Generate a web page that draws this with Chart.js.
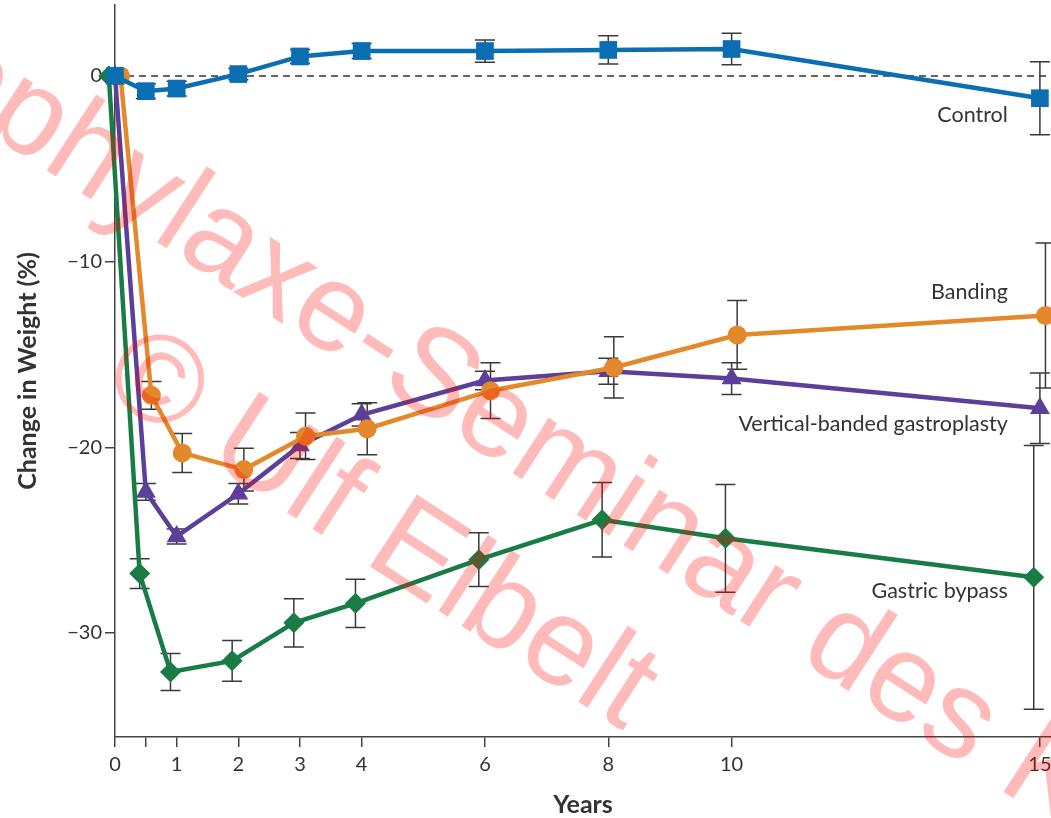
<!DOCTYPE html>
<html>
<head>
<meta charset="utf-8">
<script src="https://cdn.jsdelivr.net/npm/chart.js@4.4.0/dist/chart.umd.min.js"></script>
<style>
  html, body { margin: 0; padding: 0; background: #ffffff; }
  #wrap { width: 1051px; height: 818px; position: relative; }
</style>
</head>
<body>
<div id="wrap"><canvas id="c" width="1051" height="818"></canvas></div>
<script>
// ---- data ----
const years = [0, 0.5, 1, 2, 3, 4, 6, 8, 10, 15];
const xTickValues = [0, 0.5, 1, 2, 3, 4, 6, 8, 10, 15];
const yTickValues = [0, -10, -20, -30];
const seriesNames = ['Control', 'Banding', 'Vertical-banded gastroplasty', 'Gastric bypass'];

const controlValues = [0, -0.82, -0.68, 0.1, 1.05, 1.34, 1.34, 1.4, 1.45, -1.2];
const controlErrors = [0, 0.4, 0.4, 0.3, 0.38, 0.4, 0.6, 0.76, 0.85, 1.97];

const bandingValues = [0, -17.2, -20.3, -21.2, -19.4, -19.0, -16.95, -15.7, -13.95, -12.9];
const bandingErrors = [0, 0.75, 1.05, 1.15, 1.25, 1.4, 1.5, 1.65, 1.85, 3.9];

const vbgValues = [0, -22.4, -24.8, -22.5, -19.9, -18.25, -16.4, -15.9, -16.3, -17.9];
const vbgErrors = [0, 0.45, 0.4, 0.55, 0.7, 0.6, 0.5, 0.7, 0.85, 1.9];

const bypassValues = [0, -26.8, -32.1, -31.5, -29.45, -28.4, -26.05, -23.9, -24.9, -27.0];
const bypassErrors = [0, 0.8, 1.0, 1.1, 1.3, 1.3, 1.45, 2.0, 2.9, 7.1];

// small horizontal jitter of each series in the original figure (years)
const controlShift = 0, bandingShift = 0.09, vbgShift = 0, bypassShift = -0.1;

function pts(values, shift) {
  return values.map((v, i) => ({ x: years[i] + shift, y: v }));
}

const INK = '#333333';
const FONT = 'Lato, "DejaVu Sans", sans-serif';

const errorBarPlugin = {
  id: 'errorBars',
  beforeDatasetsDraw(chart) {
    const ctx = chart.ctx;
    const ys = chart.scales.y;
    ctx.save();
    ctx.strokeStyle = '#3a3a3a';
    ctx.lineWidth = 1.5;
    chart.data.datasets.forEach((ds, di) => {
      if (!ds.errors) return;
      const meta = chart.getDatasetMeta(di);
      meta.data.forEach((el, i) => {
        const e = ds.errors[i];
        if (!e) return;
        const v = ds.data[i].y;
        const x = el.x;
        const yTop = ys.getPixelForValue(v + e);
        const yBot = ys.getPixelForValue(v - e);
        const cap = 10;
        ctx.beginPath();
        ctx.moveTo(x, yTop); ctx.lineTo(x, yBot);
        ctx.moveTo(x - cap, yTop); ctx.lineTo(x + cap, yTop);
        ctx.moveTo(x - cap, yBot); ctx.lineTo(x + cap, yBot);
        ctx.stroke();
      });
    });
    ctx.restore();
  }
};

const seriesLabelPlugin = {
  id: 'seriesLabels',
  afterDatasetsDraw(chart, args, opts) {
    const ctx = chart.ctx;
    const xs = chart.scales.x, ys = chart.scales.y;
    ctx.save();
    ctx.fillStyle = INK;
    ctx.font = opts.font;
    ctx.textAlign = 'right';
    ctx.textBaseline = 'middle';
    opts.items.forEach(it => {
      ctx.fillText(it.text, xs.getPixelForValue(it.x), ys.getPixelForValue(it.y));
    });
    ctx.restore();
  }
};

const watermarkPlugin = {
  id: 'watermark',
  afterDraw(chart) {
    const ctx = chart.ctx;
    ctx.save();
    ctx.fillStyle = 'rgba(255, 0, 0, 0.27)';
    ctx.font = '125px "Liberation Sans", Arial, sans-serif';
    ctx.textAlign = 'left';
    ctx.textBaseline = 'alphabetic';
    ctx.translate(-182, 22);
    ctx.rotate(33 * Math.PI / 180);
    ctx.fillText('Prophylaxe-Seminar des K', 0, 0);
    ctx.fillText('\u00A9 Ulf Elbelt', 435, 156);
    ctx.restore();
  }
};

const lineDefaults = {
  borderWidth: 4.5,
  tension: 0,
  pointBorderWidth: 0,
  clip: false,
  fill: false
};

new Chart(document.getElementById('c'), {
  type: 'line',
  data: {
    datasets: [
      Object.assign({}, lineDefaults, {
        label: seriesNames[0],
        data: pts(controlValues, controlShift),
        errors: controlErrors,
        borderColor: '#0B6DB2', backgroundColor: '#0B6DB2',
        pointStyle: 'rect', pointRadius: 12.5, order: 1
      }),
      Object.assign({}, lineDefaults, {
        label: seriesNames[1],
        data: pts(bandingValues, bandingShift),
        errors: bandingErrors,
        borderColor: '#E3892B', backgroundColor: '#E3892B',
        pointStyle: 'circle', pointRadius: 9.5, order: 2
      }),
      Object.assign({}, lineDefaults, {
        label: seriesNames[2],
        data: pts(vbgValues, vbgShift),
        errors: vbgErrors,
        borderColor: '#5B3F98', backgroundColor: '#5B3F98',
        pointStyle: 'triangle', pointRadius: 11.5, order: 3
      }),
      Object.assign({}, lineDefaults, {
        label: seriesNames[3],
        data: pts(bypassValues, bypassShift),
        errors: bypassErrors,
        borderColor: '#1A7C45', backgroundColor: '#1A7C45',
        pointStyle: 'rectRot', pointRadius: 10.5, order: 4
      }),
      {
        label: 'zero',
        data: [{ x: 0, y: 0 }, { x: 15.18, y: 0 }],
        borderColor: '#333333', borderWidth: 1.5, borderDash: [7, 5],
        pointRadius: 0, order: 5, clip: false
      }
    ]
  },
  options: {
    responsive: false,
    animation: false,
    devicePixelRatio: 1,
    layout: { autoPadding: false, padding: { left: 0, right: 0, top: 5, bottom: 0 } },
    plugins: {
      legend: { display: false },
      tooltip: { enabled: false },
      seriesLabels: {
        font: '21.5px ' + FONT,
        items: [
          { text: seriesNames[0], x: 14.48, y: -2.1 },
          { text: seriesNames[1], x: 14.48, y: -11.63 },
          { text: seriesNames[2], x: 14.48, y: -18.74 },
          { text: seriesNames[3], x: 14.48, y: -27.74 }
        ]
      }
    },
    scales: {
      x: {
        type: 'linear',
        min: 0, max: 15.18,
        afterBuildTicks: s => { s.ticks = xTickValues.map(v => ({ value: v })); },
        afterFit: s => { s.height = 81; s.paddingLeft = 0; s.paddingRight = 0; },
        ticks: {
          autoSkip: false, maxRotation: 0, padding: 6,
          color: INK, font: { family: FONT, size: 20 },
          callback: v => (v === 0.5 ? '' : String(v))
        },
        grid: { drawOnChartArea: false, drawTicks: true, tickLength: 10, color: '#444', lineWidth: 1.5 },
        border: { display: true, color: '#444', width: 1.5 },
        title: {
          display: true, text: 'Years', color: INK,
          font: { family: FONT, size: 25, weight: 'bold' },
          padding: { top: 0, bottom: -2 }
        }
      },
      y: {
        type: 'linear',
        min: -35.6, max: 3.82,
        afterBuildTicks: s => { s.ticks = yTickValues.map(v => ({ value: v })); },
        afterFit: s => { s.width = 115; s.paddingTop = 0; s.paddingBottom = 0; },
        ticks: {
          padding: 3, color: INK, font: { family: FONT, size: 20 },
          callback: v => (v < 0 ? '\u2212' + Math.abs(v) : String(v))
        },
        grid: { drawOnChartArea: false, drawTicks: true, tickLength: 10, color: '#444', lineWidth: 1.5 },
        border: { display: true, color: '#444', width: 1.5 },
        title: {
          display: true, text: 'Change in Weight (%)', color: INK,
          font: { family: FONT, size: 25, weight: 'bold' },
          padding: { top: 13, bottom: 0 }
        }
      }
    }
  },
  plugins: [errorBarPlugin, seriesLabelPlugin, watermarkPlugin]
});
</script>
</body>
</html>
